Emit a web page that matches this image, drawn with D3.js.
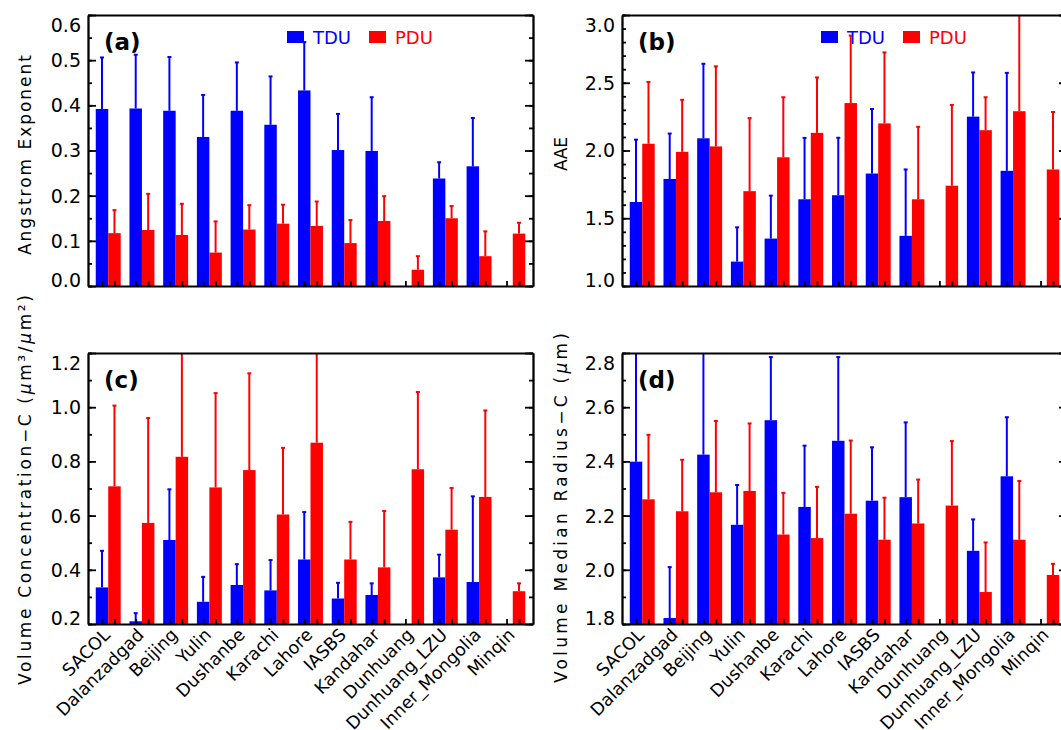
<!DOCTYPE html>
<html><head><meta charset="utf-8">
<script src="https://cdn.jsdelivr.net/npm/d3@7"></script>
<style>
body{margin:0;background:#fff}
text{font-family:"DejaVu Sans",sans-serif;fill:#000}
</style>
</head><body>
<svg id="chart" width="1061" height="730"></svg>
<script>
const categories = ["SACOL","Dalanzadgad","Beijing","Yulin","Dushanbe","Karachi","Lahore","IASBS","Kandahar","Dunhuang","Dunhuang_LZU","Inner_Mongolia","Minqin"];
const seriesNames = ["TDU","PDU"];

// (a) Angstrom Exponent
const aeTDU   = [0.392,0.393,0.388,0.330,0.388,0.357,0.433,0.301,0.299,null,0.238,0.265,null];
const aeTDUsd = [0.114,0.119,0.119,0.093,0.107,0.107,0.107,0.080,0.119,null,0.036,0.107,null];
const aePDU   = [0.117,0.124,0.113,0.074,0.125,0.138,0.133,0.095,0.144,0.036,0.150,0.066,0.116];
const aePDUsd = [0.051,0.080,0.069,0.069,0.054,0.042,0.054,0.051,0.055,0.030,0.027,0.055,0.024];

// (b) AAE
const aaeTDU   = [1.62,1.79,2.09,1.18,1.35,1.64,1.67,1.83,1.37,null,2.25,1.85,null];
const aaeTDUsd = [0.46,0.335,0.55,0.253,0.317,0.453,0.424,0.476,0.49,null,0.326,0.723,null];
const aaePDU   = [2.05,1.99,2.03,1.70,1.95,2.13,2.35,2.20,1.64,1.74,2.15,2.29,1.86];
const aaePDUsd = [0.456,0.384,0.591,0.539,0.443,0.409,0.498,0.524,0.535,0.596,0.243,0.76,0.424];

// (c) Volume concentration, coarse mode
const vcTDU   = [0.335,0.210,0.510,0.282,0.344,0.324,0.438,0.294,0.307,null,0.372,0.355,null];
const vcTDUsd = [0.135,0.030,0.187,0.092,0.077,0.112,0.175,0.058,0.043,null,0.084,0.316,null];
const vcPDU   = [0.708,0.573,0.817,0.704,0.768,0.604,0.869,0.438,0.409,0.771,0.548,0.669,0.321];
const vcPDUsd = [0.298,0.387,0.45,0.348,0.357,0.246,0.38,0.139,0.208,0.285,0.154,0.319,0.029];

// (d) Volume median radius, coarse mode
const vmrTDU   = [2.399,1.822,2.425,2.166,2.552,2.232,2.476,2.255,2.268,null,2.070,2.345,null];
const vmrTDUsd = [0.5,0.188,0.385,0.147,0.233,0.226,0.309,0.197,0.276,null,0.116,0.218,null];
const vmrPDU   = [2.260,2.216,2.286,2.291,2.130,2.117,2.207,2.111,2.171,2.237,1.918,2.111,1.981];
const vmrPDUsd = [0.238,0.190,0.263,0.249,0.154,0.189,0.270,0.155,0.162,0.238,0.183,0.217,0.041];

const colors = {TDU:"#0000ff", PDU:"#ff0000"};

const panels = [
  {tag:"(a)", tdu:aeTDU, tduSd:aeTDUsd, pdu:aePDU, pduSd:aePDUsd, ymin:0, ymax:0.6, major:0.1, nminor:2, x0:88, y0:15, legend:true, xlabels:false},
  {tag:"(b)", tdu:aaeTDU, tduSd:aaeTDUsd, pdu:aaePDU, pduSd:aaePDUsd, ymin:1.0, ymax:3.0, major:0.5, nminor:5, x0:622, y0:15, legend:true, xlabels:false},
  {tag:"(c)", tdu:vcTDU, tduSd:vcTDUsd, pdu:vcPDU, pduSd:vcPDUsd, ymin:0.2, ymax:1.2, major:0.2, nminor:2, x0:88, y0:353, legend:false, xlabels:true},
  {tag:"(d)", tdu:vmrTDU, tduSd:vmrTDUsd, pdu:vmrPDU, pduSd:vmrPDUsd, ymin:1.8, ymax:2.8, major:0.2, nminor:2, x0:622, y0:353, legend:false, xlabels:true}
];

const W = 445, H = 271;
const barW = 0.37;
const svg = d3.select("#chart");

panels.forEach((p, pi) => {
  const g = svg.append("g").attr("transform", `translate(${p.x0},${p.y0})`);
  const x = d3.scaleLinear().domain([-0.6, categories.length - 0.4]).range([0, W]);
  const y = d3.scaleLinear().domain([p.ymin, p.ymax]).range([H, 0]);

  const clipId = "clip" + pi;
  g.append("clipPath").attr("id", clipId).append("rect").attr("x", 0).attr("y", 0).attr("width", W).attr("height", H);
  const plot = g.append("g").attr("clip-path", `url(#${clipId})`);

  const series = [
    {name:"TDU", vals:p.tdu, sd:p.tduSd, off:-barW},
    {name:"PDU", vals:p.pdu, sd:p.pduSd, off:0}
  ];
  series.forEach(s => {
    const data = categories.map((c, i) => ({i, v:s.vals[i], sd:s.sd[i]})).filter(d => d.v != null);
    plot.selectAll(null).data(data).enter().append("rect")
      .attr("x", d => x(d.i + s.off))
      .attr("width", x(barW) - x(0))
      .attr("y", d => y(d.v))
      .attr("height", d => y(p.ymin) - y(d.v))
      .attr("fill", colors[s.name]);
    plot.selectAll(null).data(data).enter().append("line")
      .attr("x1", d => x(d.i + s.off + barW / 2)).attr("x2", d => x(d.i + s.off + barW / 2))
      .attr("y1", d => y(d.v)).attr("y2", d => y(d.v + d.sd))
      .attr("stroke", colors[s.name]).attr("stroke-width", 2);
    plot.selectAll(null).data(data).enter().append("line")
      .attr("x1", d => x(d.i + s.off + barW / 2) - 2).attr("x2", d => x(d.i + s.off + barW / 2) + 2)
      .attr("y1", d => y(d.v + d.sd)).attr("y2", d => y(d.v + d.sd))
      .attr("stroke", colors[s.name]).attr("stroke-width", 2);
  });

  // ticks
  const nMaj = Math.round((p.ymax - p.ymin) / p.major);
  const majors = d3.range(nMaj + 1).map(k => +(p.ymin + k * p.major).toFixed(4));
  const minors = d3.range(nMaj * p.nminor + 1).map(k => +(p.ymin + k * p.major / p.nminor).toFixed(4));

  const sw = 1.8;
  const left = g.append("g").call(d3.axisLeft(y).tickValues(majors).tickSize(-8).tickSizeOuter(0).tickPadding(7).tickFormat(d3.format(".1f")));
  left.selectAll("text").style("font-size", "19px").style("font-family", "DejaVu Sans")
    .attr("dy", d => d === p.ymax ? "0.85em" : d === p.ymin ? "0.02em" : "0.34em");
  g.append("g").call(d3.axisLeft(y).tickValues(minors).tickSize(-4).tickSizeOuter(0).tickFormat(""));
  g.append("g").attr("transform", `translate(${W},0)`).call(d3.axisRight(y).tickValues(majors).tickSize(-8).tickSizeOuter(0).tickFormat(""));
  g.append("g").attr("transform", `translate(${W},0)`).call(d3.axisRight(y).tickValues(minors).tickSize(-4).tickSizeOuter(0).tickFormat(""));
  const xt = [];
  categories.forEach((c, i) => { xt.push(i - barW / 2, i + barW / 2); });
  g.append("g").attr("transform", `translate(0,${H})`).call(d3.axisBottom(x).tickValues(xt).tickSize(-5).tickSizeOuter(0).tickFormat(""));
  g.append("g").call(d3.axisTop(x).tickValues([]).tickSizeOuter(0));
  g.selectAll(".domain, .tick line").attr("stroke", "#000").attr("stroke-width", sw);

  // panel tag
  g.append("text").attr("x", 16).attr("y", 35).style("font-size", "23px").style("font-weight", "bold").text(p.tag);

  // legend
  if (p.legend) {
    const lg = g.append("g").attr("transform", "translate(199,16)");
    seriesNames.forEach((n, k) => {
      const ox = k * 82;
      lg.append("rect").attr("x", ox).attr("y", 0).attr("width", 17).attr("height", 12).attr("fill", colors[n]);
      lg.append("text").attr("x", ox + 26).attr("y", 13).style("font-size", "18px").style("fill", colors[n]).text(n);
    });
  }

  // x labels
  if (p.xlabels) {
    g.append("g").selectAll(null).data(categories).enter().append("text")
      .attr("transform", (d, i) => `translate(${x(i) + 3},${H + 12}) rotate(-45)`)
      .attr("text-anchor", "end").style("font-size", "17.5px").text(d => d);
  }
});

// y-axis titles
function ytitle(cx, cy, len, build) {
  const t = svg.append("text").attr("transform", `translate(${cx},${cy}) rotate(-90)`)
    .attr("text-anchor", "middle").style("font-size", "17px")
    .attr("textLength", len).attr("lengthAdjust", "spacing");
  build(t);
}
ytitle(31, 155, 200, t => t.text("Angstrom  Exponent"));
ytitle(567, 154, 34, t => t.text("AAE"));
ytitle(31, 490, 390, t => {
  t.append("tspan").text("Volume  Concentration\u2212C  (");
  t.append("tspan").style("font-style", "italic").text("\u03bc");
  t.append("tspan").text("m\u00b3/");
  t.append("tspan").style("font-style", "italic").text("\u03bc");
  t.append("tspan").text("m\u00b2)");
});
ytitle(567, 508, 350, t => {
  t.append("tspan").text("Volume  Median  Radius\u2212C  (");
  t.append("tspan").style("font-style", "italic").text("\u03bc");
  t.append("tspan").text("m)");
});
</script>
</body></html>
